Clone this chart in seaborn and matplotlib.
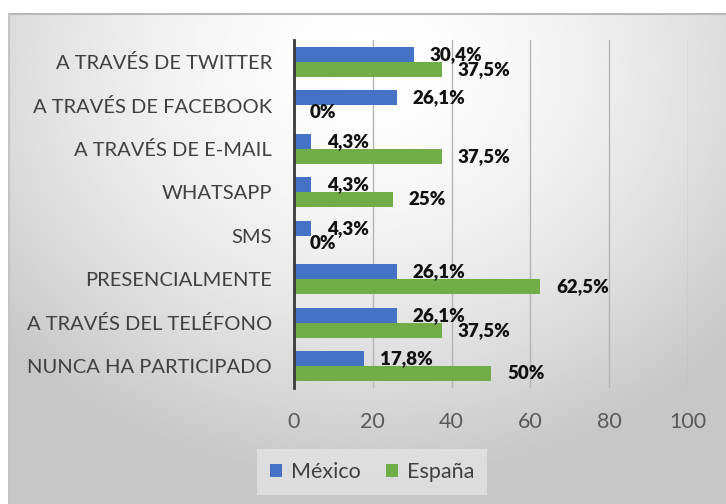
import numpy as np
import pandas as pd
import matplotlib
matplotlib.use("Agg")
import matplotlib.pyplot as plt
import seaborn as sns

categories = ["A TRAVÉS DE TWITTER", "A TRAVÉS DE FACEBOOK", "A TRAVÉS DE E-MAIL",
              "WHATSAPP", "SMS", "PRESENCIALMENTE", "A TRAVÉS DEL TELÉFONO",
              "NUNCA HA PARTICIPADO"]
mexico = [30.4, 26.1, 4.3, 4.3, 4.3, 26.1, 26.1, 17.8]
espana = [37.5, 0, 37.5, 25, 0, 62.5, 37.5, 50]
series_names = ["México", "España"]
x_ticks = [0, 20, 40, 60, 80, 100]

sns.set_theme(style="white")
plt.rcParams["font.family"] = ["Lato", "DejaVu Sans"]

W, H = 726, 504
fig = plt.figure(figsize=(W / 100, H / 100), dpi=100)
fig.patch.set_facecolor("white")

# background panel with radial gradient
px0, py_top = 8, 13
bg = fig.add_axes([px0 / W, 0, 1 - px0 / W, 1 - py_top / H], zorder=-10)
ny, nx = 200, 300
yy, xx = np.mgrid[0:1:ny * 1j, 0:1:nx * 1j]
r = np.sqrt(((xx - 0.5) / 0.75) ** 2 + ((yy - 0.1) / 0.95) ** 2)
v = np.clip(1.0 - 0.26 * r ** 1.6, 0.78, 1.0)
bg.imshow(v, cmap="gray", vmin=0, vmax=1, aspect="auto", extent=[0, 1, 1, 0],
          interpolation="bilinear")
bg.plot([0, 1], [0.002, 0.002], color="#b8b8b8", lw=1.5)
bg.plot([0.001, 0.001], [0, 1], color="#c4c4c4", lw=1.5)
bg.set_xlim(0, 1)
bg.set_ylim(1, 0)
bg.axis("off")

ax = fig.add_axes([294 / W, 1 - 388 / H, (688 - 294) / W, (388 - 40) / H])
ax.set_facecolor("none")

df = pd.DataFrame({
    "cat": categories * 2,
    "val": mexico + espana,
    "pais": [series_names[0]] * len(categories) + [series_names[1]] * len(categories),
})
palette = {"México": "#4472C4", "España": "#70AD47"}
sns.barplot(data=df, y="cat", x="val", hue="pais", orient="h", palette=palette,
            width=0.68, ax=ax, saturation=1, edgecolor="none", legend=True)

def fmt(v):
    if float(v).is_integer():
        return f"{int(v)}%"
    return f"{v:.1f}".replace(".", ",") + "%"

for cont in ax.containers:
    for bar in cont:
        w = bar.get_width()
        y = bar.get_y() + bar.get_height() / 2
        ax.annotate(fmt(w), xy=(w, y), xytext=(11.5, 0), textcoords="offset points",
                    ha="left", va="center", fontsize=13.5, fontweight="heavy",
                    color="#111111", annotation_clip=False)

ax.set_xlim(0, 100)
ax.set_xticks(x_ticks)
ax.set_xticklabels([str(t) for t in x_ticks])
ax.set_xlabel("")
ax.set_ylabel("")
ax.grid(axis="x", color="#b4b4b4", lw=1)
ax.grid(axis="y", visible=False)
ax.set_axisbelow(True)
for s in ["top", "right", "bottom"]:
    ax.spines[s].set_visible(False)
ax.spines["left"].set_color("#3a3a3a")
ax.spines["left"].set_linewidth(2)
ax.tick_params(axis="x", length=0, pad=17, labelsize=15.5, labelcolor="#595959")
ax.tick_params(axis="y", length=0, pad=16, labelsize=14.5, labelcolor="#404040")

handles, labels = ax.get_legend_handles_labels()
ax.get_legend().remove()
leg = fig.legend(handles, labels, loc="center", bbox_to_anchor=(372 / W, 1 - 472 / H),
                 ncol=2, frameon=True, fontsize=15.5, handlelength=0.55, handleheight=0.55,
                 handletextpad=0.4, columnspacing=1.2, borderpad=0.6)
leg.get_frame().set_facecolor("#ececec")
leg.get_frame().set_alpha(0.6)
leg.get_frame().set_edgecolor("none")
leg.get_frame().set_boxstyle("square", pad=0)
for t in leg.get_texts():
    t.set_color("#404040")

fig.savefig("out.png", dpi=100)
